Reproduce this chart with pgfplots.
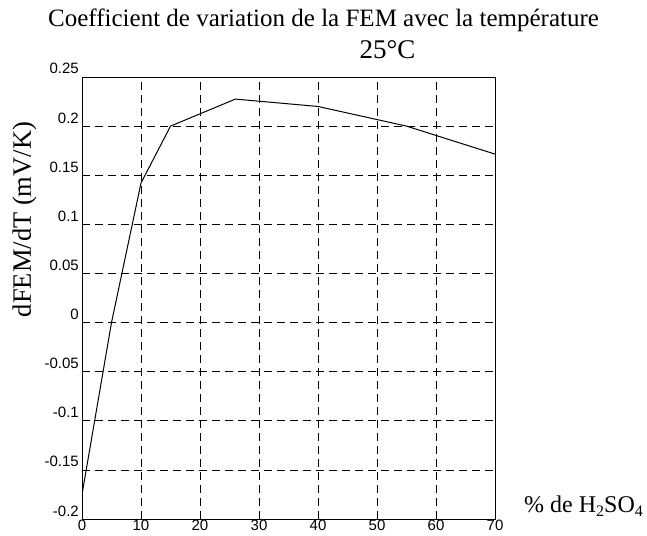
\documentclass[border=0pt]{standalone}
\usepackage{fontspec}
\setmainfont{Liberation Serif}
\setsansfont{Liberation Sans}
\usepackage{pgfplots}
\pgfplotsset{compat=1.18}
\begin{document}
\begin{tikzpicture}
\path[use as bounding box] (-82pt,-16pt) rectangle (565pt,519pt);
\begin{axis}[
  at={(0pt,0pt)}, anchor=south west,
  scale only axis, width=413pt, height=442pt,
  xmin=0, xmax=70, ymin=-0.2, ymax=0.25,
  xtick={0,10,20,30,40,50,60,70},
  xticklabels={0,10,20,30,40,50,60,70},
  ytick={-0.2,-0.15,-0.1,-0.05,0,0.05,0.1,0.15,0.2,0.25},
  yticklabels={-0.2,-0.15,-0.1,-0.05,0,0.05,0.1,0.15,0.2,0.25},
  major tick length=0pt,
  grid=major,
  major grid style={black, line width=0.6pt, dash pattern=on 8pt off 5pt},
  axis line style={black, line width=0.8pt},
  tick label style={font=\sffamily\fontsize{15}{17}\selectfont},
  yticklabel style={anchor=base east, inner sep=1pt, xshift=-2pt, yshift=3pt},
  xticklabel style={anchor=north, inner sep=0pt, yshift=-1pt},
]
\addplot[black, line width=1pt, mark=none] coordinates {
  (0,-0.175) (5,0) (10,0.142) (15,0.2) (26,0.2275) (40,0.22) (55,0.2) (70,0.1715)
};
\end{axis}
\node[anchor=base west, inner sep=0pt, font=\fontsize{25}{29}\selectfont] at (-34pt,492pt) {Coefficient de variation de la FEM avec la température};
\node[anchor=base, inner sep=0pt, font=\fontsize{27}{30}\selectfont] at (305.5pt,460.5pt) {25°C};
\node[rotate=90, inner sep=0pt, font=\fontsize{26.5}{30}\selectfont] at (-57.5pt,299.5pt) {dFEM/dT (mV/K)};
\node[anchor=base west, inner sep=0pt, font=\fontsize{24}{27}\selectfont] at (442pt,7pt) {\% de H\raisebox{-0.4ex}{\fontsize{16}{16}\selectfont 2}SO\raisebox{-0.4ex}{\fontsize{16}{16}\selectfont 4}};
\end{tikzpicture}
\end{document}
